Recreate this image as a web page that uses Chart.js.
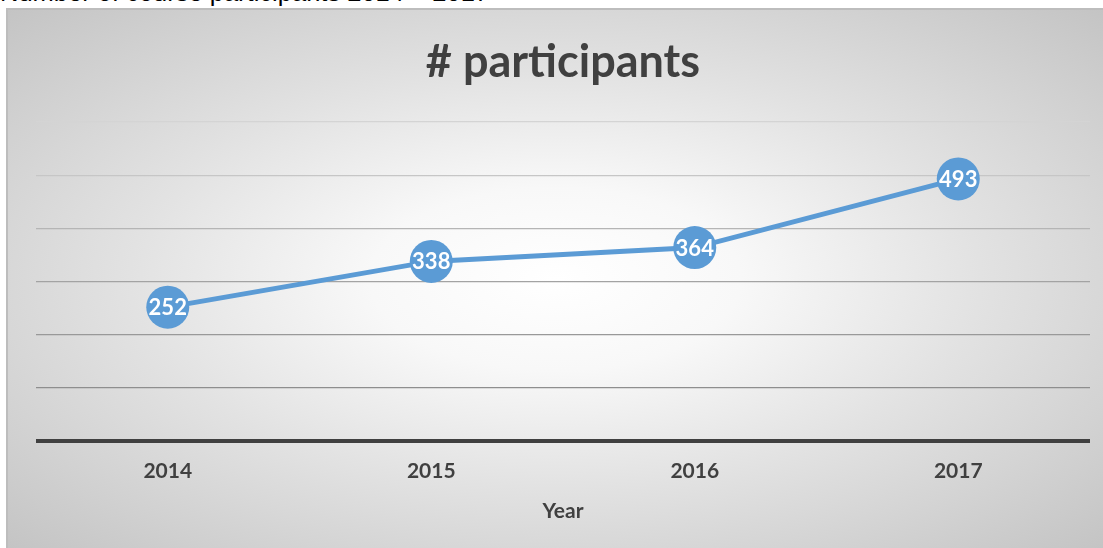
<!DOCTYPE html>
<html>
<head>
<meta charset="utf-8">
<script src="https://cdn.jsdelivr.net/npm/chart.js@4/dist/chart.umd.min.js"></script>
<style>
  html, body { margin: 0; padding: 0; width: 1103px; height: 548px; overflow: hidden; background: #fff; }
  #cap { position: absolute; left: 0; top: -21px; font-family: "Liberation Sans", Arial, sans-serif; font-size: 25.5px; line-height: 26px; color: #000; white-space: nowrap; }
  #box { position: absolute; left: 6px; top: 8px; width: 1097px; height: 540px;
    border-top: 2px solid #bdbdbd; border-left: 2px solid #bdbdbd; box-sizing: border-box;
    background: radial-gradient(ellipse farthest-corner at 50% 50%, #ffffff 0%, #f8f8f8 24%, #e2e2e2 55%, #c4c4c4 100%); }
  #c { position: absolute; left: -2px; top: -2px; }
</style>
</head>
<body>
<div id="cap">Number of course participants 2014 – 2017</div>
<div id="box"><canvas id="c" width="1097" height="540"></canvas></div>
<script>
const categories = ["2014", "2015", "2016", "2017"];
const participants = [252, 338, 364, 493];
const titleText = "# participants";
const xTitle = "Year";

const gridColors = ["#404040", "#8e8e8e", "#999999", "#a3a3a3", "#b5b5b5", "#c6c6c6", "#d4d4d4"];

const labelPlugin = {
  id: "pointLabels",
  afterDatasetsDraw(chart) {
    const ctx = chart.ctx;
    const meta = chart.getDatasetMeta(0);
    ctx.save();
    ctx.font = "bold 22px Lato, 'Open Sans', sans-serif";
    ctx.fillStyle = "#ffffff";
    ctx.textAlign = "center";
    ctx.textBaseline = "middle";
    meta.data.forEach((pt, i) => {
      ctx.fillText(String(chart.data.datasets[0].data[i]), pt.x, pt.y + 1);
    });
    ctx.restore();
  }
};

new Chart(document.getElementById("c"), {
  type: "line",
  data: {
    labels: categories,
    datasets: [{
      data: participants,
      borderColor: "#5b9bd5",
      backgroundColor: "#5b9bd5",
      borderWidth: 5,
      pointRadius: 21.5,
      pointHoverRadius: 21.5,
      pointBackgroundColor: "#5b9bd5",
      pointBorderWidth: 0,
      tension: 0,
      clip: false
    }]
  },
  options: {
    responsive: false,
    animation: false,
    events: [],
    layout: { autoPadding: false, padding: { left: 30, right: 13, top: 0, bottom: 0 } },
    plugins: {
      legend: { display: false },
      tooltip: { enabled: false },
      title: {
        display: true,
        text: titleText,
        color: "#404040",
        font: { family: "Lato, 'Open Sans', sans-serif", size: 45, weight: "bold", lineHeight: 1.2 },
        padding: { top: 27, bottom: 33 }
      }
    },
    scales: {
      x: {
        offset: true,
        grid: { display: false, drawTicks: false },
        border: { display: false },
        ticks: { color: "#404040", padding: 17, font: { family: "Lato, 'Open Sans', sans-serif", size: 21, weight: "bold", lineHeight: 1.2 } },
        title: { display: true, text: xTitle, color: "#404040",
          font: { family: "Lato, 'Open Sans', sans-serif", size: 21, weight: "bold", lineHeight: 1.2 },
          padding: { top: -2, bottom: 24.4 } }
      },
      y: {
        min: 0, max: 600,
        ticks: { display: false, stepSize: 100 },
        border: { display: false },
        grid: {
          drawTicks: false,
          color: (c) => gridColors[c.index] || "#b0b0b0",
          lineWidth: (c) => c.index === 0 ? 4 : 1.3
        }
      }
    }
  },
  plugins: [labelPlugin]
});
</script>
</body>
</html>
